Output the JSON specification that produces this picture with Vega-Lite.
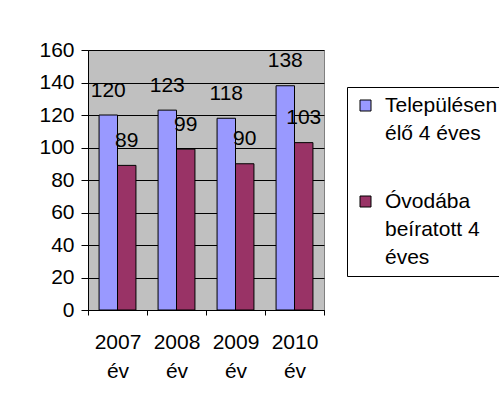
{
  "$schema": "https://vega.github.io/schema/vega-lite/v6.json",
  "width": 236,
  "height": 260,
  "autosize": {"type": "none"},
  "padding": {"left": 88, "top": 50, "right": 175, "bottom": 100},
  "background": "white",
  "data": {
    "values": [
      {"year": "2007 év", "series": "Településen élő 4 éves", "value": 120},
      {"year": "2007 év", "series": "Óvodába beíratott 4 éves", "value": 89},
      {"year": "2008 év", "series": "Településen élő 4 éves", "value": 123},
      {"year": "2008 év", "series": "Óvodába beíratott 4 éves", "value": 99},
      {"year": "2009 év", "series": "Településen élő 4 éves", "value": 118},
      {"year": "2009 év", "series": "Óvodába beíratott 4 éves", "value": 90},
      {"year": "2010 év", "series": "Településen élő 4 éves", "value": 138},
      {"year": "2010 év", "series": "Óvodába beíratott 4 éves", "value": 103}
    ]
  },
  "encoding": {
    "x": {
      "field": "year",
      "type": "nominal",
      "title": null,
      "scale": {"paddingInner": 0, "paddingOuter": 0},
      "axis": {
        "labelAngle": 0,
        "tickBand": "extent",
        "tickSize": 5,
        "tickColor": "black",
        "domainColor": "black",
        "labelPadding": 16,
        "labelFont": "Liberation Sans",
        "labelFontSize": 21,
        "labelColor": "black",
        "labelLineHeight": 29,
        "labelExpr": "split(datum.label, ' ')",
        "grid": false
      }
    },
    "xOffset": {
      "field": "series",
      "type": "nominal",
      "scale": {"domain": ["Településen élő 4 éves", "Óvodába beíratott 4 éves"], "paddingOuter": 0.6, "paddingInner": 0}
    },
    "y": {
      "field": "value",
      "type": "quantitative",
      "title": null,
      "scale": {"domain": [0, 160]},
      "axis": {
        "values": [0, 20, 40, 60, 80, 100, 120, 140, 160],
        "grid": true,
        "gridColor": "black",
        "gridOpacity": 1,
        "gridWidth": 1,
        "tickSize": 7,
        "tickColor": "black",
        "domainColor": "black",
        "labelPadding": 7,
        "labelFont": "Liberation Sans",
        "labelFontSize": 21,
        "labelColor": "black"
      }
    }
  },
  "layer": [
    {
      "mark": {"type": "bar", "stroke": "black", "strokeWidth": 1, "opacity": 1},
      "encoding": {
        "color": {
          "field": "series",
          "type": "nominal",
          "scale": {
            "domain": ["Településen élő 4 éves", "Óvodába beíratott 4 éves"],
            "range": ["#9999FF", "#993366"]
          },
          "legend": {
            "title": null,
            "orient": "none",
            "legendX": 259,
            "legendY": 37,
            "padding": 8,
            "fillColor": "white",
            "strokeColor": "black",
            "symbolType": "square",
            "symbolSize": 121,
            "symbolStrokeColor": "black",
            "symbolStrokeWidth": 1,
            "symbolOpacity": 1,
            "labelOffset": 9,
            "labelFont": "Liberation Sans",
            "labelFontSize": 21,
            "labelColor": "black",
            "labelLimit": 300,
            "rowPadding": 46,
            "labelExpr": "datum.label == 'Településen élő 4 éves' ? ['Településen', 'élő 4 éves'] : ['Óvodába', 'beíratott 4', 'éves']",
            "encode": {"labels": {"update": {"lineHeight": {"value": 28}}}}
          }
        }
      }
    },
    {
      "mark": {"type": "text", "dy": -18.5, "baseline": "alphabetic", "font": "Liberation Sans", "fontSize": 21, "color": "black"},
      "encoding": {"text": {"field": "value", "type": "quantitative"}}
    }
  ],
  "config": {"view": {"fill": "#C0C0C0", "stroke": "#808080"}}
}
